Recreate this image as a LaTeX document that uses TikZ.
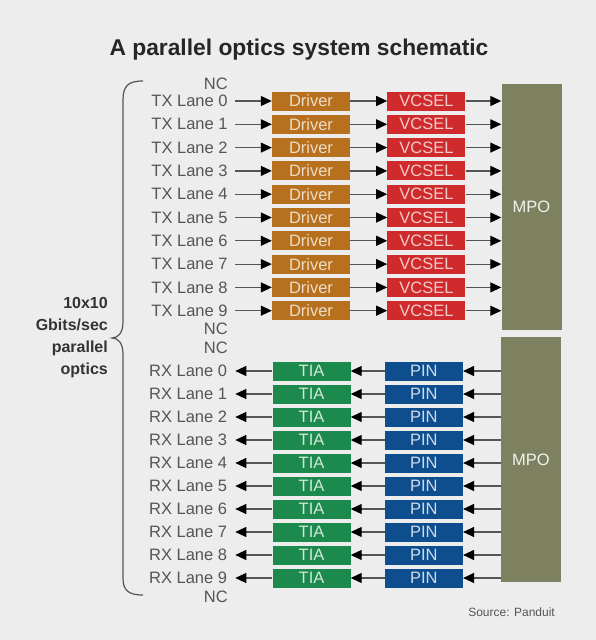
\documentclass[tikz,border=0pt]{standalone}
\usepackage{fontspec}
\setmainfont{Liberation Sans}
\usetikzlibrary{arrows.meta, positioning}

\definecolor{bgcol}{RGB}{237,237,237}
\definecolor{txtcol}{RGB}{85,85,85}
\definecolor{drvcol}{RGB}{183,113,30}
\definecolor{vcselcol}{RGB}{207,42,44}
\definecolor{tiacol}{RGB}{28,138,76}
\definecolor{pincol}{RGB}{14,78,142}
\definecolor{mpocol}{RGB}{125,129,96}

\begin{document}
\begin{tikzpicture}[x=1pt, y=-1pt,
    blk/.style={minimum width=78pt, minimum height=19pt, inner sep=0pt,
                font=\fontsize{16.5}{17}\selectfont},
    drv/.style={blk, fill=drvcol, text=drvcol!25!white},
    vcsel/.style={blk, fill=vcselcol, text=vcselcol!25!white},
    tia/.style={blk, fill=tiacol, text=tiacol!20!white},
    pin/.style={blk, fill=pincol, text=pincol!20!white},
    mpo/.style={fill=mpocol, text=white!90!mpocol, minimum width=60pt, inner sep=0pt,
                font=\fontsize{16.5}{17}\selectfont},
    lane/.style={inner sep=0pt, text=txtcol, font=\fontsize{16.5}{18}\selectfont},
    fl/.style={-{Triangle[length=11pt, width=10pt, color=black]}, draw=txtcol, line width=1.2pt}
]
    \fill[bgcol] (0,0) rectangle (596,640);
    \useasboundingbox (0,0) rectangle (596,640);

    \node[font=\bfseries\fontsize{22.8}{26}\selectfont, text=black!85] (title) at (299,50)
        {A parallel optics system schematic};

    % transmit side
    \node[mpo, minimum height=246pt] (mpotx) at (531.5,207) {MPO};
    \node[lane, anchor=east] (nc1) at (228,84) {NC};
    \foreach \i [evaluate=\i as \y using 101+23.3*\i] in {0,...,9} {
        \node[drv] (drv\i) at (311,\y) {Driver};
        \node[vcsel, right=37pt of drv\i] (vcsel\i) {VCSEL};
        \node[lane, left=44pt of drv\i] (tx\i) {TX Lane \i};
        \draw[fl, shorten <=7pt] (tx\i) -- (drv\i);
        \draw[fl] (drv\i) -- (vcsel\i);
        \draw[fl] (vcsel\i) -- (vcsel\i -| mpotx.west);
    }
    \node[lane, anchor=east] (nc2) at (228,329) {NC};
    \node[lane, anchor=east] (nc3) at (228,348) {NC};

    % receive side
    \node[mpo, minimum height=245pt] (mporx) at (531,459.5) {MPO};
    \foreach \i [evaluate=\i as \y using 371+23.0*\i] in {0,...,9} {
        \node[tia] (tia\i) at (311.5,\y) {TIA};
        \node[pin, right=34pt of tia\i] (pin\i) {PIN};
        \node[lane, left=45pt of tia\i] (rx\i) {RX Lane \i};
        \draw[fl] (pin\i -| mporx.west) -- (pin\i);
        \draw[fl] (pin\i) -- (tia\i);
        \draw[fl, shorten >=8pt] (tia\i) -- (rx\i);
    }
    \node[lane, anchor=east] (nc4) at (228,597) {NC};

    % brace and its label
    \draw[draw=txtcol, line width=1.2pt]
        (143,81) .. controls (128,81) and (123,86) .. (123,100) -- (123,322)
        .. controls (123,333) and (118,338) .. (112,338)
        .. controls (118,338) and (123,343) .. (123,354) -- (123,578)
        .. controls (123,590) and (128,595) .. (143,595);
    \node[anchor=east, align=right, inner sep=0pt, text=black!80,
          font=\bfseries\fontsize{16}{22}\selectfont] (rate) at (108,338)
        {10x10\\Gbits/sec\\parallel\\optics};

    \node[anchor=east, inner sep=0pt, text=txtcol, font=\fontsize{12}{14}\selectfont]
        (src) at (555,612) {Source: Panduit};
\end{tikzpicture}
\end{document}
